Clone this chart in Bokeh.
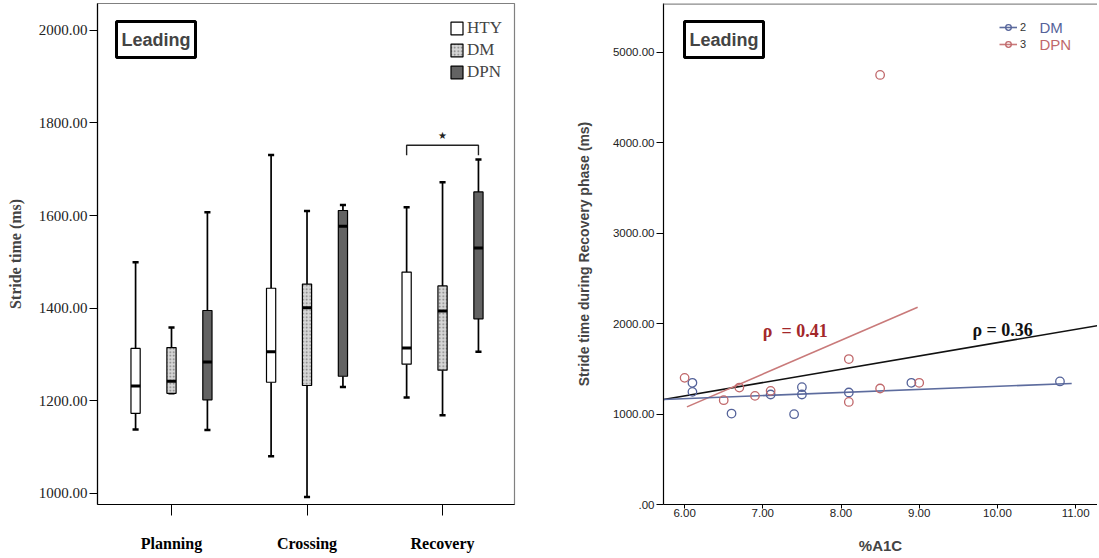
import numpy as np
from bokeh.plotting import figure
from bokeh.layouts import row
from bokeh.models import Range1d, FixedTicker, Label, Legend, LegendItem, Span, ColumnDataSource
from bokeh.embed import file_html
from bokeh.resources import INLINE

# ---------------- Left panel data (box plots) ----------------
phases = ["Planning", "Crossing", "Recovery"]
groups = ["HTY", "DM", "DPN"]
hty_min = [1138, 1080, 1207]
hty_q1 = [1173, 1240, 1279]
hty_med = [1232, 1306, 1314]
hty_q3 = [1313, 1443, 1478]
hty_max = [1499, 1731, 1618]
dm_min = [1216, 992, 1169]
dm_q1 = [1216, 1233, 1266]
dm_med = [1242, 1401, 1394]
dm_q3 = [1315, 1452, 1448]
dm_max = [1358, 1610, 1672]
dpn_min = [1137, 1230, 1306]
dpn_q1 = [1202, 1253, 1377]
dpn_med = [1284, 1577, 1530]
dpn_q3 = [1395, 1611, 1651]
dpn_max = [1607, 1623, 1721]
left_ticks = [1000, 1200, 1400, 1600, 1800, 2000]
sig_phase = 2
sig_y = 1752

# ---------------- Right panel data (scatter) ----------------
dm_a1c = [6.1, 6.1, 6.6, 7.1, 7.4, 7.5, 7.5, 8.1, 8.9, 10.8]
dm_stride = [1345, 1245, 1005, 1216, 998, 1297, 1216, 1238, 1345, 1360]
dpn_a1c = [6.0, 6.5, 6.7, 6.9, 7.1, 8.1, 8.1, 8.5, 8.5, 9.0]
dpn_stride = [1400, 1153, 1293, 1201, 1256, 1608, 1134, 1282, 4748, 1345]
# fit lines: intercept, slope, x start, x end
dm_fit = [966.8, 33.9, 5.73, 10.95]
dpn_fit = [-1173.8, 373.6, 6.03, 8.98]
all_fit = [318.7, 147.0, 5.73, 11.28]
right_yticks = [0, 1000, 2000, 3000, 4000, 5000]
right_xticks = [6, 7, 8, 9, 10, 11]

SERIF = "Liberation Serif"
SANS = "Liberation Sans"

H = 556
MB_TOP = 3
MB_BOTTOM = 52

# ================= LEFT FIGURE =================
p1 = figure(width=569, height=H, x_range=Range1d(-0.546, 2.531), y_range=Range1d(976, 2058),
            output_backend="svg", toolbar_location=None,
            min_border_left=97, min_border_right=55, min_border_top=MB_TOP, min_border_bottom=MB_BOTTOM)
p1.xgrid.visible = False
p1.ygrid.visible = False
p1.outline_line_color = "#808080"
p1.outline_line_width = 1.2

offsets = [-0.265, 0.0, 0.265]
box_w = 0.068
cap_w = 0.045
styles = [
    dict(fill_color="white"),
    dict(fill_color="#d6d6d6", hatch_pattern="dot", hatch_color="#7a7a7a", hatch_scale=3.5, hatch_weight=1.2),
    dict(fill_color="#636363"),
]
stats = [
    (hty_min, hty_q1, hty_med, hty_q3, hty_max),
    (dm_min, dm_q1, dm_med, dm_q3, dm_max),
    (dpn_min, dpn_q1, dpn_med, dpn_q3, dpn_max),
]
box_renderers = []
for gi, (off, st, sty) in enumerate(zip(offsets, stats, styles)):
    lo, q1, med, q3, hi = st
    xs = [i + off for i in range(len(phases))]
    src = ColumnDataSource(dict(
        x=xs, lo=lo, q1=q1, med=med, q3=q3, hi=hi,
        cl=[x - cap_w / 2 for x in xs], cr=[x + cap_w / 2 for x in xs],
        ml=[x - box_w / 2 for x in xs], mr=[x + box_w / 2 for x in xs],
    ))
    p1.segment(x0="x", y0="q3", x1="x", y1="hi", source=src, line_color="black", line_width=1.7)
    p1.segment(x0="x", y0="lo", x1="x", y1="q1", source=src, line_color="black", line_width=1.7)
    p1.segment(x0="cl", y0="hi", x1="cr", y1="hi", source=src, line_color="black", line_width=2.5)
    p1.segment(x0="cl", y0="lo", x1="cr", y1="lo", source=src, line_color="black", line_width=2.5)
    r = p1.vbar(x="x", width=box_w, bottom="q1", top="q3", source=src,
                line_color="black", line_width=1.2, **sty)
    box_renderers.append(r)
    p1.segment(x0="ml", y0="med", x1="mr", y1="med", source=src, line_color="black", line_width=3)

# significance bracket
bx0 = sig_phase + offsets[0]
bx1 = sig_phase + offsets[2]
p1.line(x=[bx0, bx0, bx1, bx1], y=[sig_y - 22, sig_y, sig_y, sig_y - 22], line_color="#222222", line_width=1.4)
p1.add_layout(Label(x=sig_phase, y=sig_y + 10, text="★", text_align="center", text_baseline="bottom",
                    text_font="DejaVu Sans", text_font_size="10px", text_color="#222222"))

# axes
p1.xaxis.ticker = FixedTicker(ticks=list(range(len(phases))))
p1.xaxis.major_label_overrides = {i: ph for i, ph in enumerate(phases)}
p1.xaxis.major_label_text_font = SERIF
p1.xaxis.major_label_text_font_style = "bold"
p1.xaxis.major_label_text_font_size = "16px"
p1.xaxis.major_label_text_color = "black"
p1.xaxis.major_tick_out = 11
p1.xaxis.major_tick_in = 0
p1.xaxis.minor_tick_line_color = None
p1.xaxis.major_label_standoff = 19
p1.xaxis.axis_line_color = "black"
p1.xaxis.axis_line_width = 1.2

p1.yaxis.ticker = FixedTicker(ticks=left_ticks)
p1.yaxis.major_label_overrides = {t: f"{t:.2f}" for t in left_ticks}
p1.yaxis.major_label_text_font = SERIF
p1.yaxis.major_label_text_font_size = "15px"
p1.yaxis.major_label_text_color = "#222222"
p1.yaxis.major_tick_out = 8
p1.yaxis.major_tick_in = 0
p1.yaxis.minor_tick_line_color = None
p1.yaxis.major_label_standoff = 2
p1.yaxis.axis_line_color = "black"
p1.yaxis.axis_line_width = 1.2
p1.yaxis.axis_label = "Stride time (ms)"
p1.yaxis.axis_label_text_font = SERIF
p1.yaxis.axis_label_text_font_style = "bold"
p1.yaxis.axis_label_text_font_size = "16px"
p1.yaxis.axis_label_standoff = 12

legend1 = Legend(items=[LegendItem(label=g, renderers=[r]) for g, r in zip(groups, box_renderers)],
                 location=(352, 422), label_text_font=SERIF, label_text_font_size="17px",
                 glyph_width=15, glyph_height=16, spacing=2, padding=0, margin=0,
                 label_standoff=3, border_line_color=None, background_fill_alpha=0,
                 label_height=17)
p1.add_layout(legend1)

p1.add_layout(Label(x=19, y=483, x_units="screen", y_units="screen", text="Leading",
                    text_font=SANS, text_font_style="bold", text_font_size="18px",
                    text_align="left", text_baseline="top",
                    border_line_color="black", border_line_width=3,
                    background_fill_color="white", padding=(5, 8)))

# ================= RIGHT FIGURE =================
p2 = figure(width=528, height=H, x_range=Range1d(5.73, 11.28), y_range=Range1d(0, 5538),
            output_backend="svg", toolbar_location=None,
            min_border_left=94, min_border_right=0, min_border_top=MB_TOP, min_border_bottom=MB_BOTTOM)
p2.xgrid.visible = False
p2.ygrid.visible = False
p2.outline_line_color = None
p2.add_layout(Span(location=5538, dimension="width", line_color="#8a8a8a", line_width=2.4))

DM_C = "#55639a"
DPN_C = "#c0686b"

def fit_xy(fit):
    a, b, x0, x1 = fit
    xs = np.array([x0, x1])
    return xs, a + b * xs

x, y = fit_xy(all_fit)
p2.line(x, y, line_color="#111111", line_width=1.6)
x, y = fit_xy(dpn_fit)
r_dpn_line = p2.line(x, y, line_color="#c97a7a", line_width=1.6)
x, y = fit_xy(dm_fit)
r_dm_line = p2.line(x, y, line_color="#5d6c9e", line_width=1.6)

r_dm = p2.scatter(dm_a1c, dm_stride, marker="circle", size=8.5, fill_color=None,
                  line_color=DM_C, line_width=1.3)
r_dpn = p2.scatter(dpn_a1c, dpn_stride, marker="circle", size=8.5, fill_color=None,
                   line_color=DPN_C, line_width=1.3)

p2.add_layout(Label(x=7.0, y=1918, text="ρ\u00a0 = 0.41", text_font=SERIF, text_font_style="bold",
                    text_font_size="18px", text_color="#a3282b", text_baseline="middle"))
p2.add_layout(Label(x=9.68, y=1929, text="ρ = 0.36", text_font=SERIF, text_font_style="bold",
                    text_font_size="18px", text_color="#111111", text_baseline="middle"))

p2.xaxis.ticker = FixedTicker(ticks=right_xticks)
p2.xaxis.major_label_overrides = {t: f"{t:.2f}" for t in right_xticks}
p2.xaxis.major_label_text_font = SANS
p2.xaxis.major_label_text_font_size = "11.5px"
p2.xaxis.major_label_text_color = "#222222"
p2.xaxis.major_tick_out = 4
p2.xaxis.major_tick_in = 0
p2.xaxis.minor_tick_line_color = None
p2.xaxis.major_label_standoff = 0
p2.xaxis.axis_line_color = "black"
p2.xaxis.axis_line_width = 1.2
p2.xaxis.axis_label = "%A1C"
p2.xaxis.axis_label_text_font = SANS
p2.xaxis.axis_label_text_font_style = "bold"
p2.xaxis.axis_label_text_font_size = "15px"
p2.xaxis.axis_label_standoff = 17

p2.yaxis.ticker = FixedTicker(ticks=right_yticks)
p2.yaxis.major_label_overrides = {t: (f"{t:.2f}" if t else ".00") for t in right_yticks}
p2.yaxis.major_label_text_font = SANS
p2.yaxis.major_label_text_font_size = "11.5px"
p2.yaxis.major_label_text_color = "#222222"
p2.yaxis.major_tick_out = 7
p2.yaxis.major_tick_in = 0
p2.yaxis.minor_tick_line_color = None
p2.yaxis.major_label_standoff = 2
p2.yaxis.axis_line_color = "black"
p2.yaxis.axis_line_width = 1.2
p2.yaxis.axis_label = "Stride time during Recovery phase (ms)"
p2.yaxis.axis_label_text_font = SANS
p2.yaxis.axis_label_text_font_style = "bold"
p2.yaxis.axis_label_text_font_size = "14px"
p2.yaxis.axis_label_standoff = 18

legend2 = Legend(items=[LegendItem(label="2", renderers=[r_dm_line, r_dm]),
                        LegendItem(label="3", renderers=[r_dpn_line, r_dpn])],
                 location=(336, 453), label_text_font=SANS, label_text_font_size="11px",
                 label_text_color="#333333", glyph_width=18, glyph_height=14, spacing=3,
                 padding=0, margin=0, label_standoff=3, border_line_color=None,
                 background_fill_alpha=0, label_height=14)
p2.add_layout(legend2)
p2.add_layout(Label(x=376, y=477, x_units="screen", y_units="screen", text="DM",
                    text_font=SANS, text_font_size="15px", text_color=DM_C, text_baseline="middle"))
p2.add_layout(Label(x=376, y=460, x_units="screen", y_units="screen", text="DPN",
                    text_font=SANS, text_font_size="15px", text_color=DPN_C, text_baseline="middle"))

p2.add_layout(Label(x=21, y=483, x_units="screen", y_units="screen", text="Leading",
                    text_font=SANS, text_font_style="bold", text_font_size="18px",
                    text_align="left", text_baseline="top",
                    border_line_color="black", border_line_width=3,
                    background_fill_color="white", padding=(5, 8)))

layout = row(p1, p2)
open("out.html", "w").write(file_html(layout, INLINE))
